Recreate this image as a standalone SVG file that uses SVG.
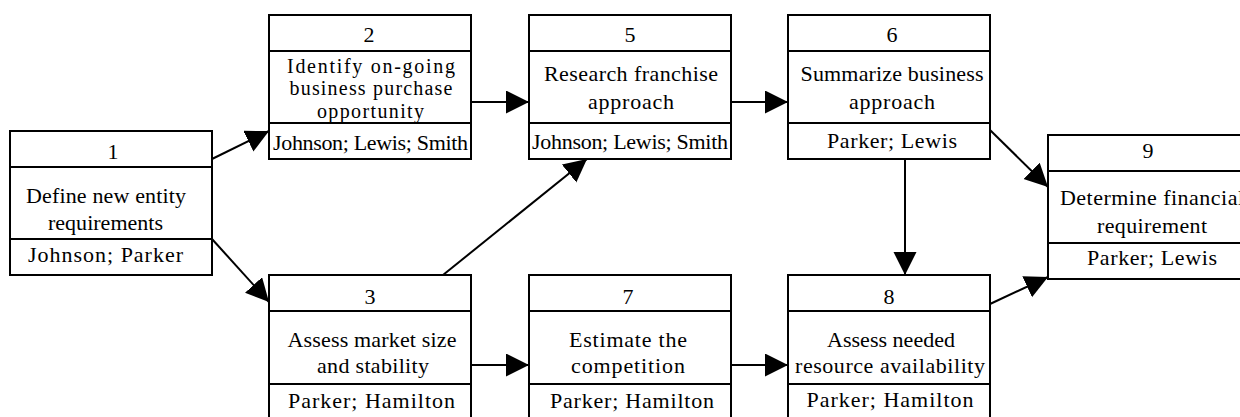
<svg xmlns="http://www.w3.org/2000/svg" width="1240" height="417" viewBox="0 0 1240 417">
<defs>
<style>
.box{fill:#fff;stroke:#000;stroke-width:2}
.sep{stroke:#000;stroke-width:2}
.t{font-family:"Liberation Serif","Times New Roman",serif;font-size:22px;fill:#000;text-anchor:middle}
.s{font-size:20px}
.edge{fill:none;stroke:#000;stroke-width:2;marker-end:url(#ah)}
</style>
<marker id="ah" markerUnits="userSpaceOnUse" markerWidth="24" markerHeight="24" refX="23" refY="11.5" orient="auto">
<path d="M0,0 L23,11.5 L0,23 Z" fill="#000"/>
</marker>
</defs>
<rect width="1240" height="417" fill="#fff"/>
<g id="connectors">
<path class="edge" d="M212,159 L269,131"/>
<path class="edge" d="M212,239 L269,302"/>
<path class="edge" d="M471,102 L529,102"/>
<path class="edge" d="M731,102 L788,102"/>
<path class="edge" d="M443,275 L587,159"/>
<path class="edge" d="M471,365 L529,365"/>
<path class="edge" d="M731,365 L788,365"/>
<path class="edge" d="M905,159 L905,275"/>
<path class="edge" d="M990,130 L1048,187"/>
<path class="edge" d="M990,304 L1048,277"/>
</g>
<g id="node1">
<rect class="box" x="10" y="131" width="202" height="144"/>
<line class="sep" x1="10" y1="167" x2="212" y2="167"/>
<line class="sep" x1="10" y1="239" x2="212" y2="239"/>
<text class="t" x="113" y="159">1</text>
<text class="t" x="106" y="203" textLength="160" lengthAdjust="spacing">Define new entity</text>
<text class="t" x="105.5" y="230" textLength="115" lengthAdjust="spacing">requirements</text>
<text class="t" x="105.5" y="262" textLength="155" lengthAdjust="spacing">Johnson; Parker</text>
</g>
<g id="node2">
<rect class="box" x="269" y="15" width="202" height="144"/>
<line class="sep" x1="269" y1="51" x2="471" y2="51"/>
<line class="sep" x1="269" y1="123" x2="471" y2="123"/>
<text class="t" x="369" y="42">2</text>
<text class="t s" x="371" y="73" textLength="168" lengthAdjust="spacing">Identify on-going</text>
<text class="t s" x="371" y="95" textLength="163" lengthAdjust="spacing">business purchase</text>
<text class="t s" x="370.5" y="117.5" textLength="107" lengthAdjust="spacing">opportunity</text>
<text class="t" x="370.5" y="150" textLength="195" lengthAdjust="spacing">Johnson; Lewis; Smith</text>
</g>
<g id="node5">
<rect class="box" x="529" y="15" width="202" height="144"/>
<line class="sep" x1="529" y1="51" x2="731" y2="51"/>
<line class="sep" x1="529" y1="123" x2="731" y2="123"/>
<text class="t" x="630" y="42">5</text>
<text class="t" x="631" y="81" textLength="174" lengthAdjust="spacing">Research franchise</text>
<text class="t" x="631" y="109" textLength="86" lengthAdjust="spacing">approach</text>
<text class="t" x="630" y="149" textLength="196" lengthAdjust="spacing">Johnson; Lewis; Smith</text>
</g>
<g id="node6">
<rect class="box" x="788" y="15" width="202" height="144"/>
<line class="sep" x1="788" y1="51" x2="990" y2="51"/>
<line class="sep" x1="788" y1="123" x2="990" y2="123"/>
<text class="t" x="892" y="42">6</text>
<text class="t" x="892" y="81" textLength="183" lengthAdjust="spacing">Summarize business</text>
<text class="t" x="892" y="109" textLength="86" lengthAdjust="spacing">approach</text>
<text class="t" x="892" y="148" textLength="130" lengthAdjust="spacing">Parker; Lewis</text>
</g>
<g id="node9">
<rect class="box" x="1048" y="135" width="202" height="144"/>
<line class="sep" x1="1048" y1="171" x2="1250" y2="171"/>
<line class="sep" x1="1048" y1="243" x2="1250" y2="243"/>
<text class="t" x="1148" y="158">9</text>
<text class="t" x="1152" y="205" textLength="184" lengthAdjust="spacing">Determine financial</text>
<text class="t" x="1152" y="233" textLength="110" lengthAdjust="spacing">requirement</text>
<text class="t" x="1152" y="265" textLength="130" lengthAdjust="spacing">Parker; Lewis</text>
</g>
<g id="node3">
<rect class="box" x="269" y="275" width="202" height="145"/>
<line class="sep" x1="269" y1="311" x2="471" y2="311"/>
<line class="sep" x1="269" y1="384" x2="471" y2="384"/>
<text class="t" x="370" y="304">3</text>
<text class="t" x="372" y="347" textLength="169" lengthAdjust="spacing">Assess market size</text>
<text class="t" x="373" y="373" textLength="112" lengthAdjust="spacing">and stability</text>
<text class="t" x="371.5" y="408" textLength="167" lengthAdjust="spacing">Parker; Hamilton</text>
</g>
<g id="node7">
<rect class="box" x="529" y="275" width="202" height="145"/>
<line class="sep" x1="529" y1="311" x2="731" y2="311"/>
<line class="sep" x1="529" y1="384" x2="731" y2="384"/>
<text class="t" x="628" y="304">7</text>
<text class="t" x="628" y="347" textLength="118" lengthAdjust="spacing">Estimate the</text>
<text class="t" x="628" y="373" textLength="114" lengthAdjust="spacing">competition</text>
<text class="t" x="632" y="408" textLength="164" lengthAdjust="spacing">Parker; Hamilton</text>
</g>
<g id="node8">
<rect class="box" x="788" y="275" width="202" height="145"/>
<line class="sep" x1="788" y1="311" x2="990" y2="311"/>
<line class="sep" x1="788" y1="384" x2="990" y2="384"/>
<text class="t" x="889" y="304">8</text>
<text class="t" x="891" y="347" textLength="128" lengthAdjust="spacing">Assess needed</text>
<text class="t" x="890" y="373" textLength="190" lengthAdjust="spacing">resource availability</text>
<text class="t" x="890" y="407" textLength="167" lengthAdjust="spacing">Parker; Hamilton</text>
</g>
</svg>
